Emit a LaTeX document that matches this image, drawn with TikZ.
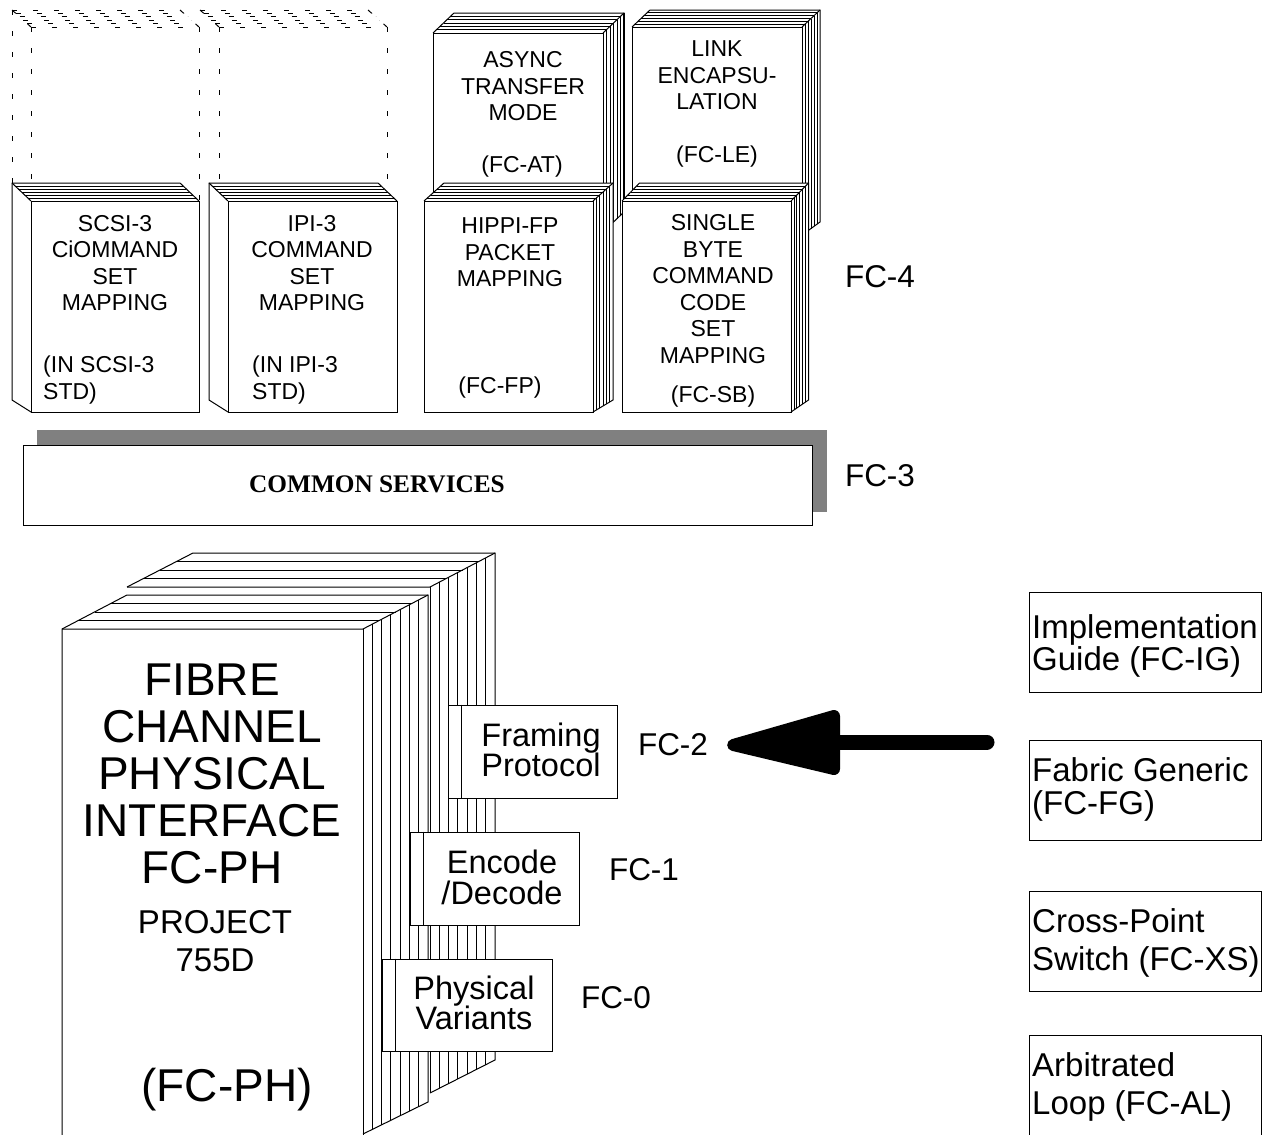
\documentclass[tikz,border=0pt]{standalone}
\usepackage{fontspec}
\setmainfont{Liberation Sans}
\newfontfamily\serifbold{Liberation Serif}
\usetikzlibrary{calc}
% stack of pages leaning left (front rectangle x0,y0,x1,y1; depth dx, dy top, dy bottom)
\newcommand\lstack[7]{%
  \fill[white] (#1,#4) -- (#1-#5,#4-#7) -- (#1-#5,#2-#6) -- (#3-#5,#2-#6) -- (#3,#2) -- (#3,#4) -- cycle;
  \foreach \k in {1,...,5}{\draw[hatch] ({#1-#5*\k/6},{#2-#6*\k/6}) -- ({#3-#5*\k/6},{#2-#6*\k/6});}
  \draw[edge] (#1,#2) rectangle (#3,#4);
  \draw[edge] (#1,#4) -- (#1-#5,#4-#7) -- (#1-#5,#2-#6) -- (#3-#5,#2-#6) -- (#3,#2);
  \draw[edge] (#1,#2) -- (#1-#5,#2-#6);
}
% stack of pages leaning right
\newcommand\rstack[7]{%
  \fill[white] (#1,#4) -- (#1,#2) -- (#1+#5,#2-#6) -- (#3+#5,#2-#6) -- (#3+#5,#4-#7) -- (#3,#4) -- cycle;
  \foreach \k in {1,...,5}{%
    \draw[hatch] ({#1+#5*\k/6},{#2-#6*\k/6}) -- ({#3+#5*\k/6},{#2-#6*\k/6});
    \draw[hatch] ({#3+#5*\k/6},{#2-#6*\k/6}) -- ({#3+#5*\k/6},{#4-#7*\k/6});}
  \draw[edge] (#1,#2) rectangle (#3,#4);
  \draw[edge] (#1,#2) -- (#1+#5,#2-#6) -- (#3+#5,#2-#6) -- (#3+#5,#4-#7) -- (#3,#4);
  \draw[edge] (#3,#2) -- (#3+#5,#2-#6);
}
\begin{document}
\begin{tikzpicture}[x=1pt,y=-1pt,
  edge/.style={draw=black,line width=1pt},
  hatch/.style={draw=black,line width=0.8pt},
  dsh/.style={draw=black,line width=1pt,dash pattern=on 5pt off 16pt},
  stxt/.style={font=\fontsize{23}{26.5}\selectfont,align=center,inner sep=0pt},
  sltxt/.style={font=\fontsize{23}{26.5}\selectfont,align=left,inner sep=0pt,anchor=west},
  btxt/.style={font=\fontsize{32.5}{30.5}\selectfont,align=center,inner sep=0pt},
  lbl/.style={font=\fontsize{31.5}{32}\selectfont,inner sep=0pt},
  rtxt/.style={font=\fontsize{33}{#1}\selectfont,align=left,inner sep=0pt,anchor=west},
  rbox/.style={draw,line width=1pt,minimum width=232pt,inner sep=0pt},
  sbox/.style={draw,line width=1pt,fill=white,inner sep=0pt},
  bigtxt/.style={font=\fontsize{46}{47}\selectfont,align=center,inner sep=0pt},
  midtxt/.style={font=\fontsize{33}{38}\selectfont,align=center,inner sep=0pt},
  cstxt/.style={font=\serifbold\bfseries\fontsize{25.3}{27}\selectfont,inner sep=0pt}
]
\useasboundingbox (0,0) rectangle (1264,1135);
\fill[white] (0,0) rectangle (1264,1135);

% ---------- dashed (planned) stacks ----------
\foreach \k in {0,...,5}{%
  \draw[dsh] ({12+19*\k/5},{10+17*\k/5}) -- ({180+19*\k/5},{10+17*\k/5});
  \draw[dsh] ({200+19*\k/5},{10+17*\k/5}) -- ({368+19*\k/5},{10+17*\k/5});}
\draw[dsh] (12,10) -- (31,27);
\draw[dsh] (180,10) -- (199,27);
\draw[dsh] (200,10) -- (219,27);
\draw[dsh] (368,10) -- (387,27);
\draw[dsh] (12,10) -- (12,183);
\draw[dsh] (31,27) -- (31,201);
\draw[dsh] (199.5,27) -- (199.5,201);
\draw[dsh] (219,27) -- (219,183);
\draw[dsh] (387,27) -- (387,183);

% ---------- back row stacks ----------
\rstack{433}{33}{603}{232}{21}{20}{20}
\draw[line width=2pt] (624,13) -- (624,202);
\node[stxt] (atm) at (523,86.5) {ASYNC\\TRANSFER\\MODE};
\node[stxt] (atmc) at (522,167) {(FC-AT)};

\rstack{632}{27}{802}{235}{18}{17}{13}
\node[stxt] (le) at (717,75.5) {LINK\\ENCAPSU-\\LATION};
\node[stxt] (lec) at (717,157) {(FC-LE)};

% ---------- front row stacks ----------
\lstack{31}{201}{199}{412}{19}{18}{12}
\node[stxt] (scsi) at (115,263) {SCSI-3\\CiOMMAND\\SET\\MAPPING};
\node[sltxt] (scsic) at (43,380) {(IN SCSI-3\\STD)};

\lstack{228}{201}{397}{412}{19}{18}{12}
\node[stxt] (ipi) at (312,263) {IPI-3\\COMMAND\\SET\\MAPPING};
\node[sltxt] (ipic) at (252,380) {(IN IPI-3\\STD)};

\rstack{424}{201}{593}{412}{20}{18}{12}
\node[stxt] (hippi) at (510,252.5) {HIPPI-FP\\PACKET\\MAPPING};
\node[stxt] (hippic) at (500,388) {(FC-FP)};

\rstack{622}{201}{791}{412}{17.5}{18}{12}
\node[stxt] (sb) at (713,289) {SINGLE\\BYTE\\COMMAND\\CODE\\SET\\MAPPING};
\node[stxt] (sbc) at (713,397) {(FC-SB)};

% ---------- common services ----------
\fill[black!50] (37,430) rectangle (827,512);
\node[draw,line width=1pt,fill=white,minimum width=789pt,minimum height=80pt,inner sep=0pt] (cs) at (417.5,485) {};
\node[cstxt] (cst) at (377,484) {COMMON SERVICES};

% ---------- FC-PH stack ----------
% back slab
\fill[white] (127,587) -- (193,553) -- (495,553) -- (495,1060) -- (430,1093) -- (430,587) -- cycle;
\foreach \yy in {561.5,570,578.5}{\draw[hatch] ({127+(587-\yy)*66/34},\yy) -- ({430+(587-\yy)*65/34},\yy);}
\foreach \k in {1,...,6}{\draw[hatch] ({430+65*\k/7},{587-34*\k/7}) -- ({430+65*\k/7},{1093-33*\k/7});}
\draw[edge] (127,587) -- (193,553) -- (495,553) -- (495,1060) -- (430,1093);
\draw[edge] (127,587) -- (430,587) -- (495,553);
\draw[edge] (430,587) -- (430,1093);
% front slab
\fill[white] (62,1140) -- (62,629) -- (127,595) -- (428,595) -- (428,1102) -- (363,1134) -- (363,1140) -- cycle;
\foreach \yy in {603.5,612,620.5}{\draw[hatch] ({62+(629-\yy)*65/34},\yy) -- ({363+(629-\yy)*65/34},\yy);}
\foreach \k in {1,...,6}{\draw[hatch] ({363+65*\k/7},{629-34*\k/7}) -- ({363+65*\k/7},{1134-32*\k/7});}
\draw[edge] (62,1140) -- (62,629) -- (127,595) -- (428,595) -- (428,1102) -- (363,1134);
\draw[edge] (62,629) -- (363,629) -- (428,595);
\draw[edge] (363,629) -- (363,1140);

\node[bigtxt] (fcph) at (212,774) {FIBRE\\CHANNEL\\PHYSICAL\\INTERFACE\\FC-PH};
\node[midtxt] (proj) at (215,941) {PROJECT\\755D};
\node[bigtxt] (fcphb) at (227,1090) {(FC-PH)};

% sub-layer boxes
\node[sbox,minimum width=169pt,minimum height=93pt] (fp) at (532.5,751.5) {};
\draw[edge] ([xshift=14pt]fp.north west) -- ([xshift=14pt]fp.south west);
\node[btxt] (fpt) at (541,750) {Framing\\Protocol};

\node[sbox,minimum width=169pt,minimum height=93pt] (ed) at (494.5,878.5) {};
\draw[edge] ([xshift=14pt]ed.north west) -- ([xshift=14pt]ed.south west);
\node[btxt] (edt) at (502,877.5) {Encode\\/Decode};

\node[sbox,minimum width=170pt,minimum height=92pt] (pv) at (467,1005) {};
\draw[edge] ([xshift=14pt]pv.north west) -- ([xshift=14pt]pv.south west);
\node[btxt] (pvt) at (474,1003) {Physical\\Variants};

% ---------- level labels ----------
\node[lbl] (fc4) at (880,277) {FC-4};
\node[lbl] (fc3) at (880,476) {FC-3};
\node[lbl] (fc2) at (673,745) {FC-2};
\node[lbl] (fc1) at (644,870) {FC-1};
\node[lbl] (fc0) at (616,998) {FC-0};

% ---------- right column ----------
\node[rbox,minimum height=100pt] (ig) at (1145,642) {};
\node[rtxt=32] (igt) at (1032,646) {Implementation\\Guide (FC-IG)};
\node[rbox,minimum height=100pt] (fg) at (1145,790) {};
\node[rtxt=33] (fgt) at (1032,789.5) {Fabric Generic\\(FC-FG)};
\node[rbox,minimum height=100pt] (xs) at (1145,941) {};
\node[rtxt=38] (xst) at (1032,943) {Cross-Point\\Switch (FC-XS)};
\node[rbox,minimum height=110pt] (al) at (1145,1090) {};
\node[rtxt=38] (alt) at (1032,1087) {Arbitrated\\Loop (FC-AL)};

% ---------- arrow ----------
\coordinate (arrTail) at (987,742);
\coordinate (arrTip) at ([xshift=25pt]fc2.east);
\coordinate (arrBase) at (834,742);
\draw[line width=15pt,line cap=round] (arrTail) -- (arrBase);
\filldraw[line width=12pt,line join=round] (arrTip) -- ($(arrBase)+(0,-26)$) -- ($(arrBase)+(0,27)$) -- cycle;
\end{tikzpicture}
\end{document}
